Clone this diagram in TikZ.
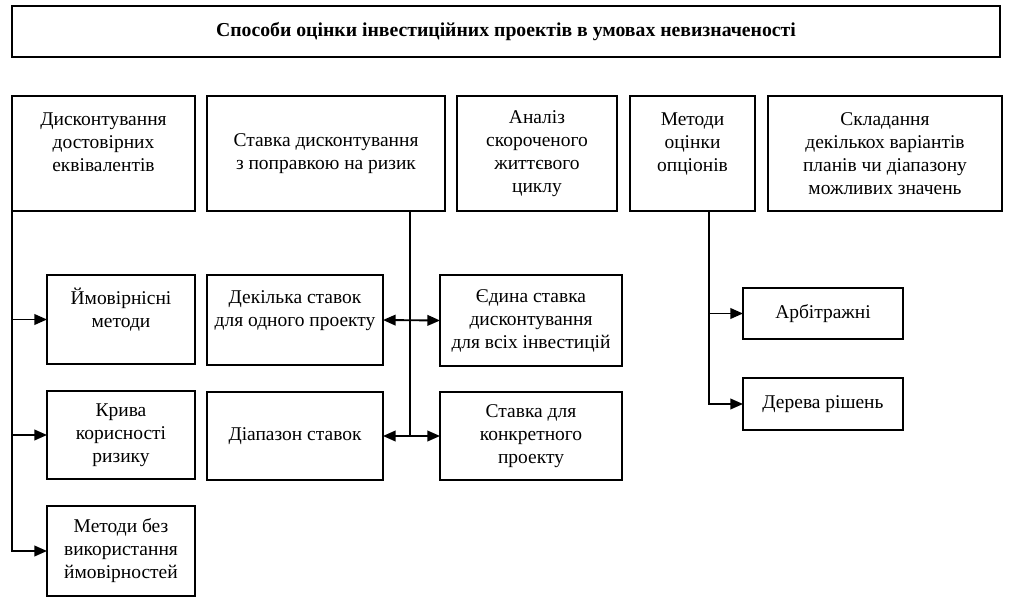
\documentclass[tikz,border=0pt]{standalone}
\usepackage{fontspec}
\setmainfont{Liberation Serif}
\usepackage{tikz}
\usetikzlibrary{arrows.meta,positioning,calc}
\tikzstyle{block} = [draw, rectangle, line width=1.4pt, align=center,
    inner sep=2pt, outer sep=0pt, font=\fontsize{14.6pt}{17.25pt}\selectfont]
\tikzstyle{title} = [block, font=\fontsize{14.8pt}{17pt}\selectfont\bfseries]
\tikzstyle{connector} = [-{Triangle[length=9.5pt,width=8pt]}, line width=1.4pt]
\tikzstyle{both} = [{Triangle[length=9.5pt,width=8pt]}-{Triangle[length=9.5pt,width=8pt]}, line width=1.4pt]
\tikzstyle{trunk} = [line width=1.4pt]

\begin{document}
\begin{tikzpicture}[x=0.75pt, y=-0.75pt]
		\useasboundingbox (0,0) rectangle (1011,606);

		\node[title, anchor=north west, minimum width=741pt, minimum height=38.25pt] (head) at (12,6)
			{Способи оцінки інвестиційних проектів в умовах невизначеності};

		% first row
		\node[block, anchor=north west, minimum width=137.25pt, minimum height=86pt] (A) at (12,96)
			{Дисконтування\\достовірних\\еквівалентів\\\mbox{}};
		\node[block, right=9pt of A.north east, anchor=north west, minimum width=178.5pt, minimum height=86pt] (B)
			{Ставка дисконтування\\з поправкою на ризик};
		\node[block, right=9pt of B.north east, anchor=north west, minimum width=120pt, minimum height=86pt] (C)
			{Аналіз\\скороченого\\життєвого\\циклу};
		\node[block, right=9.75pt of C.north east, anchor=north west, minimum width=93.75pt, minimum height=86pt] (D)
			{Методи\\оцінки\\опціонів\\\mbox{}};
		\node[block, right=9.75pt of D.north east, anchor=north west, minimum width=175.5pt, minimum height=86pt] (E)
			{Складання\\декількох варіантів\\планів чи діапазону\\можливих значень};

		% left column
		\node[block, anchor=north west, minimum width=111pt, minimum height=66.75pt] (P) at (47,275)
			{Ймовірнісні\\методи\\\mbox{}};
		\node[block, below=20.25pt of P.south west, anchor=north west, minimum width=111pt, minimum height=66pt] (Kr)
			{Крива\\корисності\\ризику};
		\node[block, below=20.25pt of Kr.south west, anchor=north west, minimum width=111pt, minimum height=67.5pt] (Mb)
			{Методи без\\використання\\ймовірностей};

		% rates
		\node[block, right=9pt of P.north east, anchor=north west, minimum width=132pt, minimum height=67.5pt] (Dk)
			{Декілька ставок\\для одного проекту\\\mbox{}};
		\node[block, below=20.25pt of Dk.south west, anchor=north west, minimum width=132pt, minimum height=66pt] (Di)
			{Діапазон ставок};
		\node[block, right=42.75pt of Dk.north east, anchor=north west, minimum width=136.5pt, minimum height=68.25pt] (Ed)
			{Єдина ставка\\дисконтування\\для всіх інвестицій};
		\node[block, anchor=north west, minimum width=136.5pt, minimum height=66pt] (Sk) at (440,392)
			{Ставка для\\конкретного\\проекту};

		% options
		\node[block, anchor=north west, minimum width=120pt, minimum height=38.25pt] (Ar) at (743,288)
			{Арбітражні};
		\node[block, below=29.25pt of Ar.south west, anchor=north west, minimum width=120pt, minimum height=39pt] (Dr)
			{Дерева рішень};

		\coordinate[left=26.25pt of B.south east] (B stem);
		\coordinate[right=12.4pt of D.south] (D stem);

		\draw[connector] (A.south west) |- (Mb);
		\draw[connector] (A.south west |- P) to (P);
		\draw[connector] (A.south west |- Kr) to (Kr);

		\draw[trunk] (B stem) to (B stem |- Di.east);
		\draw[both] (Dk.east) to (Ed.west);
		\draw[both] (Di.east) to (Sk.west);

		\draw[connector] (D stem) |- (Dr);
		\draw[connector] (D stem |- Ar) to (Ar);
	\end{tikzpicture}
\end{document}
